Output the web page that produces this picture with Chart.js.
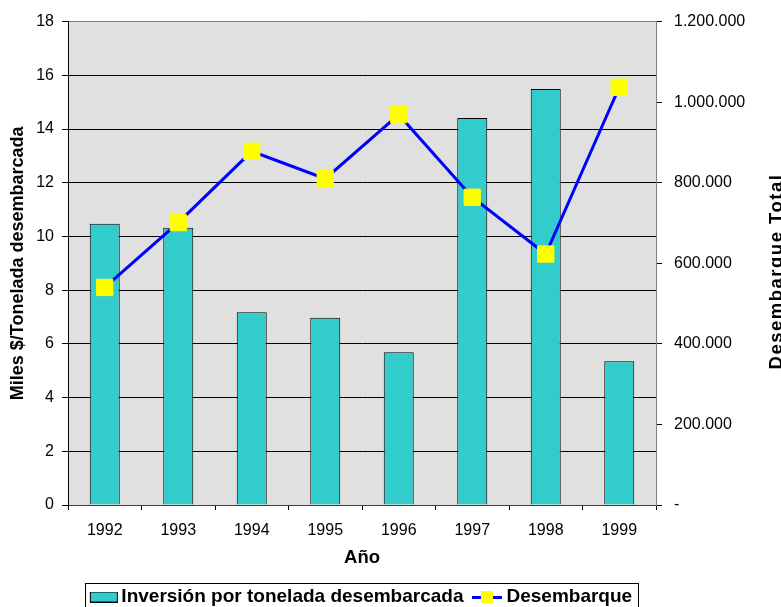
<!DOCTYPE html>
<html>
<head>
<meta charset="utf-8">
<script src="https://cdn.jsdelivr.net/npm/chart.js@4.4.1/dist/chart.umd.min.js"></script>
<style>
  body { margin: 0; background: #fff; }
  canvas { display: block; }
</style>
</head>
<body>
<canvas id="chart" width="781" height="607"></canvas>
<script>
const years = ['1992', '1993', '1994', '1995', '1996', '1997', '1998', '1999'];
const inversion = [10.47, 10.32, 7.18, 6.97, 5.69, 14.41, 15.49, 5.35];
const desembarque = [540000, 701000, 878000, 810000, 969000, 764000, 623000, 1037000];
const leftMax = 18, leftStep = 2;
const rightMax = 1200000, rightStep = 200000;

const FONT = '"Liberation Sans", Arial, Helvetica, sans-serif';
Chart.defaults.font.family = FONT;
Chart.defaults.color = '#000';

function makeSwatch(w, h, draw) {
  const c = document.createElement('canvas');
  c.width = w; c.height = h;
  draw(c.getContext('2d'));
  return c;
}
const barSwatch = makeSwatch(34, 11, g => {
  g.fillStyle = '#33cccc'; g.fillRect(5, 0, 28, 11);
  g.strokeStyle = '#000'; g.lineWidth = 1; g.strokeRect(5.5, 0.5, 27, 10);
});
const lineSwatch = makeSwatch(30, 12, g => {
  g.fillStyle = '#0000ff'; g.fillRect(0, 5, 30, 3);
  g.fillStyle = '#ffff00'; g.fillRect(9, 0, 12, 12);
});

function dots(v) {
  if (v === 0) return '-';
  return String(v).replace(/\B(?=(\d{3})+(?!\d))/g, '.');
}

const plotBg = {
  id: 'plotBg',
  beforeDraw(chart) {
    const a = chart.chartArea, ctx = chart.ctx;
    ctx.save();
    ctx.fillStyle = '#e0e0e0';
    ctx.fillRect(a.left, a.top, a.right - a.left, a.bottom - a.top);
    ctx.restore();
  }
};

// right title reads bottom-to-top, Chart.js would rotate it the other way
const rightTitle = {
  id: 'rightTitle',
  afterDraw(chart) {
    const ctx = chart.ctx;
    ctx.save();
    ctx.font = 'bold 18.5px ' + FONT;
    ctx.fillStyle = '#000';
    ctx.textAlign = 'center';
    ctx.textBaseline = 'alphabetic';
    if ('letterSpacing' in ctx) ctx.letterSpacing = '1.5px';
    ctx.translate(chart.width + 0.5, 271.5);
    ctx.rotate(-Math.PI / 2);
    ctx.fillText('Desembarque Total', 0, 0);
    ctx.restore();
  }
};

// frame around the legend
const legendFrame = {
  id: 'legendFrame',
  afterDraw(chart) {
    const hb = chart.legend && chart.legend.legendHitBoxes;
    if (!hb || !hb.length) return;
    const last = hb[hb.length - 1];
    const left = Math.round(hb[0].left - 7) + 0.5;
    const right = Math.round(last.left + last.width + 6) + 0.5;
    const top = Math.round(hb[0].top + hb[0].height / 2 - 14) + 0.5;
    const ctx = chart.ctx;
    ctx.save();
    ctx.strokeStyle = '#000';
    ctx.lineWidth = 1;
    ctx.strokeRect(left, top, right - left, 40);
    ctx.restore();
  }
};

new Chart(document.getElementById('chart'), {
  type: 'bar',
  data: {
    labels: years,
    datasets: [
      {
        label: 'Inversión por tonelada desembarcada',
        data: inversion,
        backgroundColor: '#33cccc',
        borderColor: '#000',
        borderWidth: 1,
        barPercentage: 0.408,
        categoryPercentage: 1,
        yAxisID: 'y',
        order: 1
      },
      {
        type: 'line',
        label: 'Desembarque',
        data: desembarque,
        borderColor: '#0000ff',
        borderWidth: 3,
        pointStyle: 'rect',
        pointRadius: 11.5,
        pointBackgroundColor: '#ffff00',
        pointBorderColor: '#ffff00',
        pointBorderWidth: 1,
        tension: 0,
        clip: false,
        yAxisID: 'y1',
        order: 0
      }
    ]
  },
  options: {
    responsive: false,
    animation: false,
    layout: { padding: { top: 20, right: 0, bottom: -9.5, left: 0 } },
    plugins: {
      tooltip: { enabled: false },
      legend: {
        position: 'bottom',
        fullSize: false,
        labels: {
          font: { size: 19, weight: 'bold' },
          usePointStyle: true,
          pointStyleWidth: 20,
          padding: 13.5,
          sort: (a, b) => a.datasetIndex - b.datasetIndex,
          generateLabels: chart => Chart.defaults.plugins.legend.labels.generateLabels(chart).map(item => {
            item.pointStyle = item.datasetIndex === 0 ? barSwatch : lineSwatch;
            return item;
          })
        }
      }
    },
    scales: {
      x: {
        offset: true,
        grid: { drawOnChartArea: false, tickLength: 5, tickColor: '#000', offset: true },
        border: { color: '#404040' },
        ticks: { font: { size: 16 }, padding: 11 },
        title: { display: true, text: 'Año', font: { size: 18.5, weight: 'bold' }, padding: { top: 0, bottom: 5 } },
        afterFit: s => { s.height = 69; }
      },
      y: {
        position: 'left',
        min: 0,
        max: leftMax,
        ticks: { stepSize: leftStep, font: { size: 16 }, padding: 8 },
        grid: {
          color: c => (c.tick && (c.tick.value === leftMax || c.tick.value === 0)) ? '#808080' : '#000',
          tickColor: '#000',
          tickLength: 6
        },
        border: { color: '#000' },
        title: { display: true, text: 'Miles $/Tonelada desembarcada', font: { size: 18, weight: 'bold' }, padding: { top: 7, bottom: 0 } },
        afterFit: s => { s.width = 68; }
      },
      y1: {
        position: 'right',
        min: 0,
        max: rightMax,
        ticks: { stepSize: rightStep, font: { size: 16 }, padding: 12, callback: v => dots(v) },
        grid: { drawOnChartArea: false, tickColor: '#000', tickLength: 6 },
        border: { color: '#808080' },
        afterFit: s => { s.width = 125; }
      }
    }
  },
  plugins: [plotBg, rightTitle, legendFrame]
});
</script>
</body>
</html>
